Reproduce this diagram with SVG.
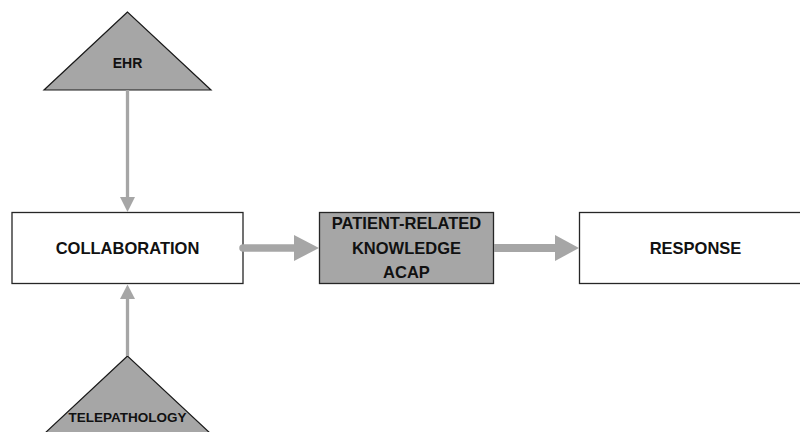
<svg xmlns="http://www.w3.org/2000/svg" width="800" height="432" viewBox="0 0 800 432">
  <style>
    .box { fill: #ffffff; stroke: #262626; stroke-width: 1.3; }
    .dark { fill: #a6a6a6; stroke: #262626; stroke-width: 1.3; }
    .tri { fill: #a6a6a6; stroke: #1a1a1a; stroke-width: 1.2; }
    .lbl { font-family: "Liberation Sans", Arial, sans-serif; font-weight: bold; fill: #111111; text-anchor: middle; }
    .big { font-size: 16.5px; }
    .small { font-size: 14px; }
    .link { stroke: #a6a6a6; fill: none; }
    .head { fill: #a6a6a6; stroke: none; }
  </style>
  <rect width="800" height="432" fill="#ffffff"/>

  <g id="ehr">
    <polygon class="tri" points="127.5,12 44,90 211,90"/>
    <text class="lbl small" x="127.5" y="68">EHR</text>
  </g>

  <g id="collaboration">
    <rect class="box" x="12" y="212.5" width="231" height="71"/>
    <text class="lbl big" x="127.5" y="254">COLLABORATION</text>
  </g>

  <g id="patient-knowledge">
    <rect class="dark" x="319.5" y="212.5" width="174" height="71"/>
    <text class="lbl big" x="406.5" y="229">PATIENT-RELATED</text>
    <text class="lbl big" x="406.5" y="254">KNOWLEDGE</text>
    <text class="lbl big" x="406.5" y="278">ACAP</text>
  </g>

  <g id="response">
    <rect class="box" x="579.5" y="212.5" width="231" height="71"/>
    <text class="lbl big" x="695.5" y="254">RESPONSE</text>
  </g>

  <g id="telepathology">
    <polygon class="tri" points="127.5,356 44,434 211,434"/>
    <text class="lbl" x="127.5" y="422" font-size="13.5px">TELEPATHOLOGY</text>
  </g>

  <!-- connectors, drawn over the node outlines -->
  <g id="connectors">
    <!-- EHR down to collaboration -->
    <line class="link" x1="127.5" y1="90" x2="127.5" y2="198" stroke-width="3.3"/>
    <polygon class="head" points="120,197 135,197 127.5,212"/>
    <!-- telepathology up to collaboration -->
    <line class="link" x1="127.5" y1="356" x2="127.5" y2="298" stroke-width="3.3"/>
    <polygon class="head" points="120,299 135,299 127.5,284.5"/>
    <!-- collaboration to patient-related knowledge -->
    <line class="link" x1="243" y1="248" x2="295" y2="248" stroke-width="7.5" stroke-linecap="round"/>
    <polygon class="head" points="294,235 294,261 319,248"/>
    <!-- patient-related knowledge to response -->
    <line class="link" x1="494" y1="248" x2="556" y2="248" stroke-width="8"/>
    <polygon class="head" points="555,235 555,261 579,248"/>
  </g>
</svg>
